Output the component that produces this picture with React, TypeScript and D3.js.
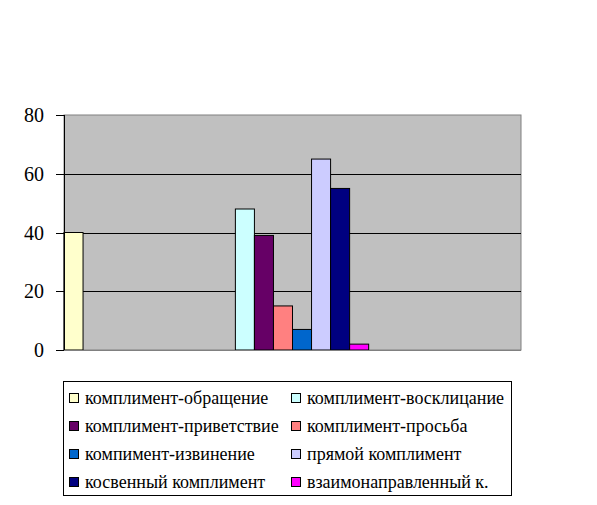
import React from "react";
import * as d3 from "d3";

const categories = ["1", "2", "3"];
const seriesNames = [
  "комплимент-обращение",
  "комплимент-восклицание",
  "комплимент-приветствие",
  "комплимент-просьба",
  "компимент-извинение",
  "прямой комплимент",
  "косвенный комплимент",
  "взаимонаправленный к.",
];
const seriesColors = ["#FFFFCC", "#CCFFFF", "#660066", "#FF8080", "#0066CC", "#CCCCFF", "#000080", "#FF00FF"];
// values per series across the three categories
const seriesValues = [
  [40, 0, 0],
  [0, 48, 0],
  [0, 39, 0],
  [0, 15, 0],
  [0, 7, 0],
  [0, 65, 0],
  [0, 55, 0],
  [0, 2, 0],
];
const yTicks = [0, 20, 40, 60, 80];

export default function App() {
  const W = 597, H = 505;
  const left = 64, right = 521, top = 115, bottom = 350;
  const x = d3.scaleBand<string>().domain(categories).range([left, right]).paddingInner(0).paddingOuter(0);
  const xs = d3.scaleBand<number>().domain(d3.range(seriesNames.length)).range([0, x.bandwidth()]).padding(0);
  const y = d3.scaleLinear().domain([0, 80]).range([bottom, top]);
  const font = '"Liberation Serif", "Times New Roman", "DejaVu Serif", serif';

  const legX = 63.5, legY = 381.5, legW = 448, legH = 114;
  const rowH = 28;
  const colX = [69, 291];

  return (
    <svg width={W} height={H} style={{ position: "absolute", left: 0, top: 0 }}>
      <rect x={0} y={0} width={W} height={H} fill="#fff" />
      <rect x={left} y={top} width={right - left} height={bottom - top} fill="#C0C0C0" stroke="#808080" strokeWidth={1} />
      {yTicks.filter((t) => t > 0 && t < 80).map((t) => (
        <line key={t} x1={left} x2={right} y1={Math.round(y(t)) + 0.5} y2={Math.round(y(t)) + 0.5} stroke="#000" strokeWidth={1} />
      ))}
      {seriesValues.map((vals, si) =>
        vals.map((v, ci) =>
          v > 0 ? (
            <rect
              key={`${si}-${ci}`}
              x={(x(categories[ci]) as number) + (xs(si) as number)}
              y={y(v)}
              width={xs.bandwidth()}
              height={bottom - y(v)}
              fill={seriesColors[si]}
              stroke="#000"
              strokeWidth={1}
            />
          ) : null
        )
      )}
      <line x1={left} x2={right} y1={bottom + 0.5} y2={bottom + 0.5} stroke="#808080" />
      <line x1={left + 0.5} x2={left + 0.5} y1={top} y2={bottom} stroke="#000" />
      {yTicks.map((t) => (
        <g key={t}>
          <line x1={56} x2={left} y1={Math.round(y(t)) + 0.5} y2={Math.round(y(t)) + 0.5} stroke="#000" />
          <text x={44} y={y(t)} dy="0.35em" textAnchor="end" style={{ fontFamily: font, fontSize: 20 }} fill="#000">
            {t}
          </text>
        </g>
      ))}
      <rect x={legX} y={legY} width={legW} height={legH} fill="#fff" stroke="#000" strokeWidth={1} />
      {seriesNames.map((n, i) => {
        const col = i % 2;
        const row = Math.floor(i / 2);
        const cy = 398 + row * rowH;
        return (
          <g key={n}>
            <rect x={colX[col] + 0.5} y={cy - 4.5} width={9} height={9} fill={seriesColors[i]} stroke="#000" strokeWidth={1} />
            <text x={colX[col] + 16} y={cy} dy="0.35em" style={{ fontFamily: font, fontSize: 18 }} fill="#000">
              {n}
            </text>
          </g>
        );
      })}
    </svg>
  );
}
